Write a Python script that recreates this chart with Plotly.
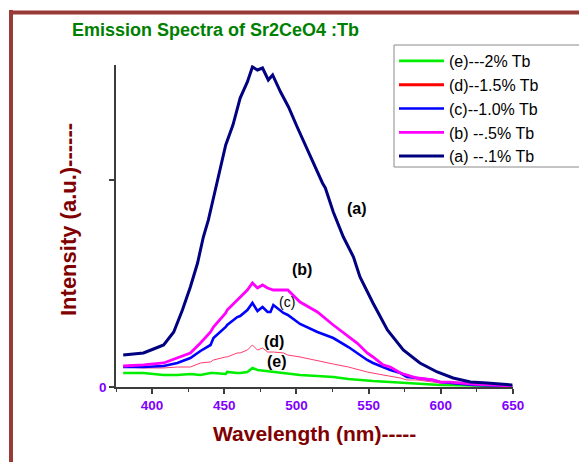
import plotly.graph_objects as go

# ---- data ----
wl_a = [380, 394, 401, 408, 415, 421, 426.5, 431.5, 435.5, 439, 442.5, 451, 456, 461, 466, 469.5, 473, 476.5, 480.5, 483.5,
        489, 494.5, 500.5, 507.5, 514.5, 518, 520, 525.5, 532.5, 539.5, 544, 553, 563, 574, 585.5, 597.5, 608.5, 620.5, 632, 649.5]
int_a = [309, 329, 367, 406, 531, 744, 966, 1198, 1449, 1614, 1826, 2338, 2531, 2792, 2947, 3092, 3063, 3082, 2966, 3015,
         2850, 2705, 2512, 2290, 2077, 1971, 1923, 1691, 1449, 1256, 1063, 812, 551, 357, 232, 145, 87, 48, 39, 19]

wl_b = [380, 394, 408, 417.5, 426.5, 433.5, 440.5, 442.5, 451, 452, 459, 461, 466, 469.5, 473, 476.5, 480, 484, 491, 494,
        502.5, 514.5, 525.5, 536, 542, 549, 553, 560, 565, 572, 576.5, 583.5, 594.5, 599.5, 606.5, 622.5, 649.5]
int_b = [203, 213, 232, 280, 329, 425, 531, 580, 715, 744, 841, 870, 937, 1005, 957, 986, 957, 937, 937, 937,
         821, 725, 599, 483, 425, 329, 290, 213, 193, 135, 116, 87, 68, 48, 48, 29, 10]

wl_c = [380, 394, 408, 417.5, 426.5, 433.5, 440.5, 442.5, 451, 452, 459, 461, 466, 469.5, 473, 476.5, 480, 482, 484, 491,
        494, 502.5, 514.5, 525.5, 536, 542, 549, 553, 560, 565, 572, 576.5, 583.5, 594.5, 599.5, 622.5, 649.5]
int_c = [193, 193, 203, 232, 280, 348, 406, 473, 580, 599, 676, 686, 744, 812, 734, 773, 725, 725, 792, 715,
         696, 609, 531, 473, 386, 329, 261, 232, 193, 164, 135, 97, 87, 68, 48, 19, 10]

wl_d = [380, 394, 408, 417.5, 426.5, 433.5, 440.5, 442.5, 451, 452, 459, 461, 466, 469.5, 473, 476.5, 480, 484, 491, 494,
        502.5, 514.5, 525.5, 536, 549, 560, 572, 576.5, 583.5, 594.5, 599.5, 622.5, 649.5]
int_d = [193, 184, 184, 193, 193, 232, 242, 261, 290, 290, 329, 329, 357, 406, 357, 377, 338, 338, 329, 309,
         290, 251, 222, 193, 145, 116, 87, 68, 68, 48, 39, 19, 10]

wl_e = [380, 394, 408, 417.5, 426.5, 433.5, 440.5, 442.5, 451, 452, 459, 461, 466, 469.5, 473, 484, 494, 502.5, 514.5,
        525.5, 536, 553, 576.5, 599.5, 649.5]
int_e = [135, 135, 116, 116, 126, 116, 135, 135, 126, 145, 135, 135, 145, 184, 164, 145, 135, 116, 106,
         97, 77, 58, 39, 19, 10]

legend_names = ["(e)---2% Tb", "(d)--1.5% Tb", "(c)--1.0% Tb", "(b) --.5% Tb", "(a) --.1% Tb"]
x_ticks = [400, 450, 500, 550, 600, 650]
y_tickvals = [0, 2000]
y_ticktext = ["0", ""]

curve_labels = ["(a)", "(b)", "(c)", "(d)", "(e)"]
label_x = [542, 504, 493.7, 484.7, 486.8]
label_y = [1729, 1140, 826, 444, 251]

FONT = "Arial, Liberation Sans, sans-serif"

fig = go.Figure()
fig.add_trace(go.Scatter(x=wl_e, y=int_e, mode="lines", name=legend_names[0],
                         line=dict(color="#00ee00", width=2.6)))
fig.add_trace(go.Scatter(x=wl_d, y=int_d, mode="lines", name=legend_names[1], showlegend=False,
                         line=dict(color="#ff3a6e", width=1)))
fig.add_trace(go.Scatter(x=[None], y=[None], mode="lines", name=legend_names[1],
                         line=dict(color="#ff0000", width=3)))
fig.add_trace(go.Scatter(x=wl_c, y=int_c, mode="lines", name=legend_names[2],
                         line=dict(color="#0000ff", width=2.6)))
fig.add_trace(go.Scatter(x=wl_b, y=int_b, mode="lines", name=legend_names[3],
                         line=dict(color="#ff00ff", width=2.8)))
fig.add_trace(go.Scatter(x=wl_a, y=int_a, mode="lines", name=legend_names[4],
                         line=dict(color="#000080", width=3)))

# page body has an 8px default margin: positions below are in window pixels
OFF = 8
W, H = 587, 462
L, T = 116 - OFF, 65 - OFF
PR, PB = 513 - OFF, 387 - OFF
R, B = W - PR, H - PB
pw, ph = PR - L, PB - T

def px_x(p):
    return (p - OFF - L) / pw

def px_y(p):
    return (PB - (p - OFF)) / ph

annotations = []
for i, t in enumerate(curve_labels):
    bold = t != "(c)"
    annotations.append(dict(x=label_x[i], y=label_y[i], xref="x", yref="y", showarrow=False,
                            xanchor="center", yanchor="middle",
                            text=("<b>%s</b>" % t) if bold else t,
                            font=dict(family=FONT, size=16 if bold else 14, color="black")))
annotations.append(dict(x=px_x(314), y=px_y(433), xref="paper", yref="paper", showarrow=False,
                        xanchor="center", yanchor="middle",
                        text="<b>Wavelength (nm)-----</b>",
                        font=dict(family=FONT, size=21, color="#800000")))
annotations.append(dict(x=px_x(68), y=px_y(220), xref="paper", yref="paper", showarrow=False,
                        xanchor="center", yanchor="middle",
                        text="<b>Intensity (a.u.)------</b>", textangle=-90,
                        font=dict(family=FONT, size=22, color="#800000")))

frame_col = "#983a36"
shapes = [
    dict(type="line", xref="paper", yref="paper", x0=px_x(11), x1=px_x(11), y0=px_y(10), y1=px_y(480),
         line=dict(color=frame_col, width=4)),
    dict(type="line", xref="paper", yref="paper", x0=px_x(9), x1=px_x(600), y0=px_y(12.5), y1=px_y(12.5),
         line=dict(color=frame_col, width=4)),
    dict(type="rect", xref="paper", yref="paper", x0=px_x(394), x1=px_x(584), y0=px_y(45), y1=px_y(167),
         line=dict(color="#8a8a8a", width=1), fillcolor="white", layer="above"),
]

fig.update_layout(
    width=W, height=H,
    margin=dict(l=L, r=R, t=T, b=B),
    paper_bgcolor="white", plot_bgcolor="white",
    title=dict(text="<b>Emission Spectra of Sr2CeO4 :Tb</b>", xref="container", yref="container",
               x=(72 - OFF) / W, xanchor="left", y=1 - (30 - OFF) / H, yanchor="middle",
               font=dict(family=FONT, size=18, color="#008000")),
    xaxis=dict(range=[375, 650], tickvals=x_ticks, showgrid=False, zeroline=False,
               showline=True, linecolor="#3c3c3c", linewidth=1.5,
               ticks="outside", ticklen=5, tickwidth=1.5, tickcolor="#3c3c3c",
               minor=dict(dtick=25, tick0=375, ticks="outside", ticklen=3, tickwidth=1.2, tickcolor="#3c3c3c"),
               tickfont=dict(family=FONT, size=13.5, color="#8000ff", weight="bold")),
    yaxis=dict(range=[0, 3111], tickvals=y_tickvals, ticktext=y_ticktext, showgrid=False, zeroline=False,
               showline=True, linecolor="#3c3c3c", linewidth=1.5,
               ticks="outside", ticklen=5, tickwidth=1.5, tickcolor="#3c3c3c",
               tickfont=dict(family=FONT, size=13.5, color="#8000ff", weight="bold")),
    legend=dict(x=px_x(394), y=px_y(44), xanchor="left", yanchor="top",
                bgcolor="rgba(0,0,0,0)", borderwidth=0, itemwidth=45,
                font=dict(family=FONT, size=16, color="black"), tracegroupgap=0),
    showlegend=True,
    annotations=annotations,
    shapes=shapes,
)

fig.write_html("out.html")
